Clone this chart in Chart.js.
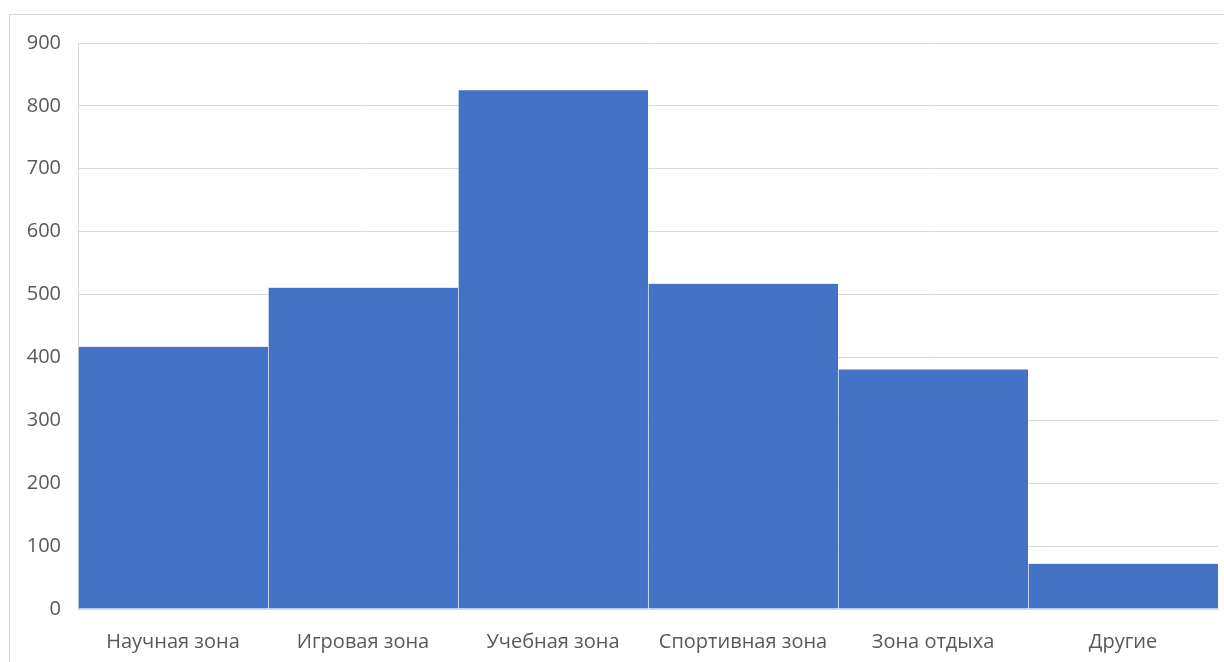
<!DOCTYPE html>
<html>
<head>
<meta charset="utf-8">
<script src="https://cdn.jsdelivr.net/npm/chart.js@4"></script>
<style>
  html, body { margin: 0; padding: 0; background: #fff; }
  #wrap { position: absolute; left: 0; top: 0; width: 1224px; height: 662px; }
  #frame { position: absolute; left: 9px; top: 14px; width: 1230px; height: 700px; border: 1px solid #d9d9d9; box-sizing: border-box; }
</style>
</head>
<body>
<div id="frame"></div>
<div id="wrap"><canvas id="myChart" width="1224" height="662"></canvas></div>
<script>
const categories = ['Научная зона', 'Игровая зона', 'Учебная зона', 'Спортивная зона', 'Зона отдыха', 'Другие'];
const values = [417, 511, 825, 517, 381, 72];
const yTicks = [0, 100, 200, 300, 400, 500, 600, 700, 800, 900];

const font = { family: 'Open Sans', size: 20 };

const config = {
  type: 'bar',
  data: {
    labels: categories,
    datasets: [{
      data: values,
      backgroundColor: '#4472c4',
      borderColor: 'rgba(255, 255, 255, 0.25)',
      borderWidth: { left: 1, right: 0, top: 0, bottom: 0 },
      borderSkipped: false,
      categoryPercentage: 1,
      barPercentage: 1
    }]
  },
  options: {
    responsive: false,
    animation: false,
    layout: { padding: { left: 10, right: 6, top: 43, bottom: 0 } },
    plugins: { legend: { display: false }, tooltip: { enabled: false } },
    scales: {
      x: {
        grid: { display: false },
        border: { color: '#d9d9d9' },
        ticks: { color: '#595959', font, padding: 13, maxRotation: 0 },
        afterFit(scale) { scale.height = 53; }
      },
      y: {
        min: 0,
        max: 900,
        afterBuildTicks(scale) { scale.ticks = yTicks.map(v => ({ value: v })); },
        grid: { color: '#d9d9d9', lineWidth: 1, drawTicks: false },
        border: { color: '#d9d9d9' },
        ticks: { color: '#595959', font, padding: 17 },
        afterFit(scale) { scale.width = 68; }
      }
    }
  }
};

const myChart = new Chart(document.getElementById('myChart'), config);
</script>
</body>
</html>
